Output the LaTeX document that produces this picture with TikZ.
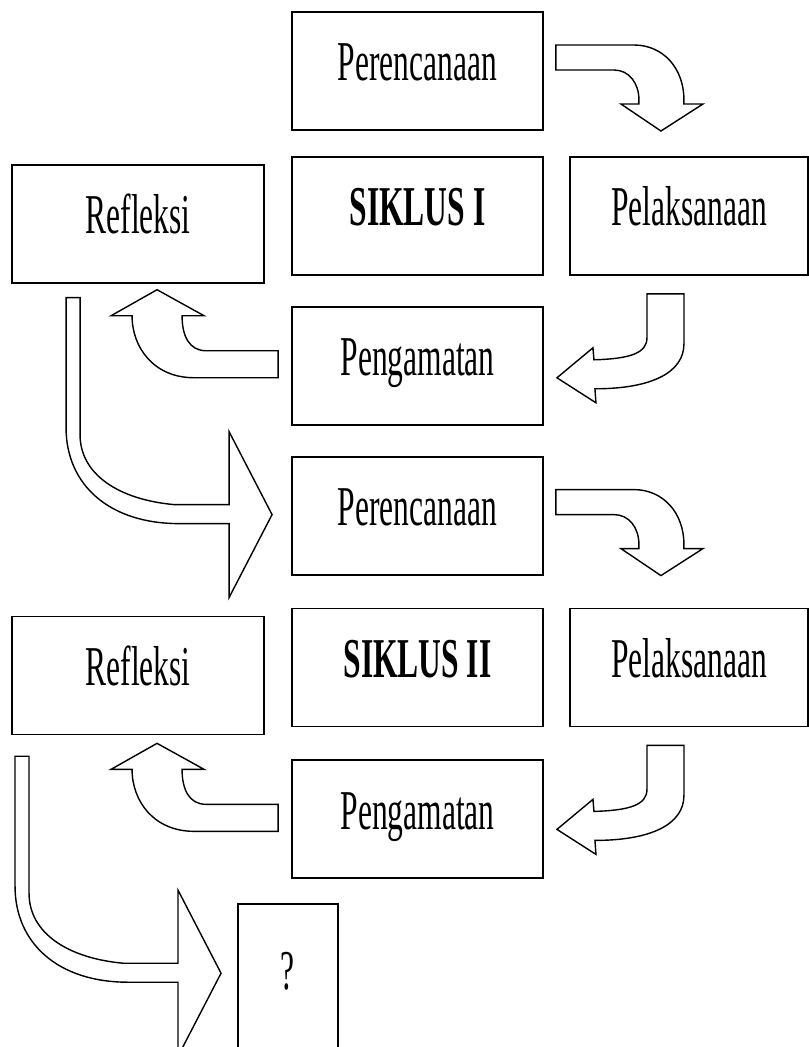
\documentclass[tikz,border=0pt]{standalone}
\usepackage{fontspec}
\setmainfont{Liberation Serif}[FakeStretch=0.56]
\usepackage{tikz}
\usetikzlibrary{positioning}
\tikzset{ %
  ,box/.style={draw, line width=1.3pt, minimum height=2.95cm, inner sep=0pt, text height=22pt, text depth=8pt, font=\fontsize{40}{48}\selectfont}
  ,midbox/.style={box, minimum width=6.275cm}
  ,refbox/.style={box, minimum width=6.3cm}
  ,pelbox/.style={box, minimum width=5.95cm}
  ,qbox/.style={box, minimum width=2.5cm, minimum height=3.775cm}
  ,blockarrow/.style={draw, fill=white, line width=1pt}
  ,turndown/.pic={\draw[blockarrow] (12,-26) -- (90,-26) .. controls (119,-26) and (140,-3) .. (140,29) -- (140,33) -- (159,33) -- (117,60) -- (77,33) -- (95,33) -- (95,29) .. controls (95,12) and (85,-1) .. (70,-1) -- (12,-1) -- cycle;}
  ,turnleft/.pic={\draw[blockarrow] (78,18) -- (115,18) -- (115,68) .. controls (115,97) and (82,113) .. (26,113) -- (27,127) -- (-12,102) -- (24,72) -- (25,84) .. controls (62,83) and (78,77) .. (78,62) -- cycle;}
  ,turnup/.pic={\draw[blockarrow] (-13,-15) -- (-13,12) -- (-97,12) .. controls (-137,12) and (-159,-18) .. (-159,-50) -- (-180,-50) -- (-134,-76) -- (-87,-50) -- (-109,-50) .. controls (-109,-30) and (-102,-15) .. (-85,-15) -- cycle;}
  ,sweep/.pic={\draw[blockarrow] (-225,-218) -- (-225,-88) .. controls (-225,-31) and (-182,8) .. (-112,8) -- (-62,8) -- (-62,82) -- (-19,-1) -- (-62,-84) -- (-62,-11) -- (-117,-11) .. controls (-172,-16) and (-211,-41) .. (-211,-81) -- (-211,-218) -- cycle;}
}

\begin{document}
\begin{tikzpicture}[x=0.025cm, y=-0.025cm]
      \useasboundingbox (0,0) rectangle (809,1047);
      \draw
      node[midbox] at (417.5,71) (p1) {Perencanaan}
      node[midbox, below=0.625cm of p1] (s1) {\bfseries SIKLUS I}
      node[refbox, left=0.65cm of s1, yshift=-0.2cm] (ref1) {Refleksi}
      node[pelbox, right=0.625cm of s1] (pel1) {Pelaksanaan}
      node[midbox, below=0.75cm of s1] (pg1) {Pengamatan}
      node[midbox, below=0.75cm of pg1] (p2) {Perencanaan}
      node[midbox, below=0.8cm of p2] (s2) {\bfseries SIKLUS II}
      node[refbox, left=0.65cm of s2, yshift=-0.2cm] (ref2) {Refleksi}
      node[pelbox, right=0.625cm of s2] (pel2) {Pelaksanaan}
      node[midbox, below=0.8cm of s2] (pg2) {Pengamatan}
      node[qbox, below=0.6cm of pg2.south west, anchor=north west, xshift=-1.35cm] (q) {?};
      % siklus I
      \pic at (p1.east) {turndown};
      \pic at (pel1.south west) {turnleft};
      \pic at (pg1.west) {turnup};
      \pic at (p2.west) {sweep};
      % siklus II
      \pic at (p2.east) {turndown};
      \pic at (pel2.south west) {turnleft};
      \pic at (pg2.west) {turnup};
      \pic at ([shift={(3,-5.5)}]q.west) {sweep};
    \end{tikzpicture}
\end{document}
